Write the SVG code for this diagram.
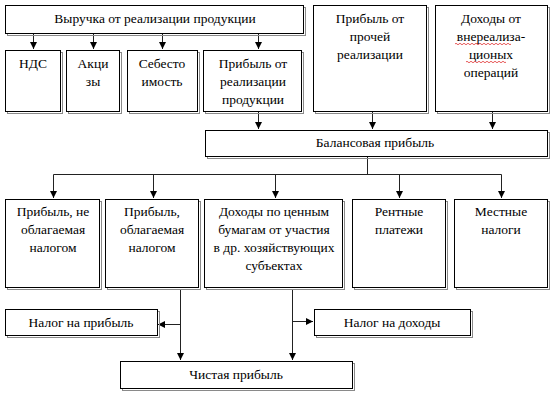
<svg xmlns="http://www.w3.org/2000/svg" width="556" height="395" viewBox="0 0 556 395">
<defs>
<marker id="ah" markerWidth="8" markerHeight="8" refX="7" refY="4" orient="auto" markerUnits="userSpaceOnUse">
<path d="M0,0.5 L7,4 L0,7.5 Z" fill="#000"/>
</marker>
<style>
.sh{fill:none;stroke:#8a8a8a;stroke-width:1}
.bx{fill:#fff;stroke:#000;stroke-width:1}
.t text{font-size:13.5px;fill:#000;text-anchor:middle}
.c{fill:none;stroke:#222;stroke-width:1}
.sq{fill:none;stroke:#e03030;stroke-width:0.8}
</style>
</defs>
<rect x="0" y="0" width="556" height="395" fill="#fff"/>

<g id="connectors">
<path class="c" d="M33.5,33 V49" marker-end="url(#ah)"/>
<path class="c" d="M93.5,33 V49" marker-end="url(#ah)"/>
<path class="c" d="M162.5,33 V49" marker-end="url(#ah)"/>
<path class="c" d="M258.5,33 V49" marker-end="url(#ah)"/>
<path class="c" d="M258.5,111 V129" marker-end="url(#ah)"/>
<path class="c" d="M372.5,111 V129" marker-end="url(#ah)"/>
<path class="c" d="M492.5,111 V129" marker-end="url(#ah)"/>
<path class="c" d="M367.5,157 V174.5 M53.5,174.5 H501.5"/>
<path class="c" d="M53.5,174.5 V198" marker-end="url(#ah)"/>
<path class="c" d="M153.5,174.5 V198" marker-end="url(#ah)"/>
<path class="c" d="M275.5,174.5 V198" marker-end="url(#ah)"/>
<path class="c" d="M399.5,174.5 V198" marker-end="url(#ah)"/>
<path class="c" d="M501.5,174.5 V198" marker-end="url(#ah)"/>
<path class="c" d="M180.5,290 V360" marker-end="url(#ah)"/>
<path class="c" d="M180.5,324.5 H158" marker-end="url(#ah)"/>
<path class="c" d="M292.5,290 V360" marker-end="url(#ah)"/>
<path class="c" d="M292.5,321.5 H313" marker-end="url(#ah)"/>
</g>

<g class="t" font-family="'Liberation Serif', 'Times New Roman', 'DejaVu Serif', serif">
<g id="n-vyruchka">
<rect class="sh" x="7.5" y="7.5" width="298" height="28"/>
<rect class="bx" x="5.5" y="5.5" width="298" height="28"/>
<text x="155" y="23">Выручка от реализации продукции</text>
</g>
<g id="n-nds">
<rect class="sh" x="7.5" y="52.5" width="55" height="61"/>
<rect class="bx" x="5.5" y="50.5" width="55" height="61"/>
<text x="33" y="68">НДС</text>
</g>
<g id="n-akcizy">
<rect class="sh" x="68.5" y="52.5" width="53" height="61"/>
<rect class="bx" x="66.5" y="50.5" width="53" height="61"/>
<text x="93" y="68">Акци</text>
<text x="93" y="86">зы</text>
</g>
<g id="n-sebest">
<rect class="sh" x="129.5" y="52.5" width="70" height="61"/>
<rect class="bx" x="127.5" y="50.5" width="70" height="61"/>
<text x="162" y="68">Себесто</text>
<text x="162" y="86">имость</text>
</g>
<g id="n-pribyl-realiz">
<rect class="sh" x="205.5" y="52.5" width="98" height="61"/>
<rect class="bx" x="203.5" y="50.5" width="98" height="61"/>
<text x="253" y="68">Прибыль от</text>
<text x="253" y="86">реализации</text>
<text x="253" y="104">продукции</text>
</g>
<g id="n-pribyl-proch">
<rect class="sh" x="315.5" y="7.5" width="113" height="106"/>
<rect class="bx" x="313.5" y="5.5" width="113" height="106"/>
<text x="370" y="23">Прибыль от</text>
<text x="370" y="41">прочей</text>
<text x="370" y="59">реализации</text>
</g>
<g id="n-dohody-vnereal">
<rect class="sh" x="437.5" y="7.5" width="112" height="106"/>
<rect class="bx" x="435.5" y="5.5" width="112" height="106"/>
<text x="491" y="23">Доходы от</text>
<text x="491" y="41">внереализа-</text>
<text x="491" y="59">ционых</text>
<text x="491" y="77">операций</text>
<path class="sq" d="M455,44 q1,-1.5 2,0 t2,0 t2,0 t2,0 t2,0 t2,0 t2,0 t2,0 t2,0 t2,0 t2,0 t2,0 t2,0 t2,0 t2,0 t2,0 t2,0 t2,0 t2,0 t2,0 t2,0 t2,0 t2,0 t2,0 t2,0 t2,0 t2,0 t2,0"/>
<path class="sq" d="M466,62 q1,-1.5 2,0 t2,0 t2,0 t2,0 t2,0 t2,0 t2,0 t2,0 t2,0 t2,0 t2,0 t2,0 t2,0 t2,0 t2,0 t2,0 t2,0 t2,0 t2,0 t2,0"/>
</g>
<g id="n-balans">
<rect class="sh" x="207.5" y="132.5" width="342" height="26"/>
<rect class="bx" x="205.5" y="130.5" width="342" height="26"/>
<text x="375" y="147">Балансовая прибыль</text>
</g>
<g id="n-ne-oblag">
<rect class="sh" x="7.5" y="201.5" width="94" height="88"/>
<rect class="bx" x="5.5" y="199.5" width="94" height="88"/>
<text x="53" y="216">Прибыль, не</text>
<text x="53" y="234">облагаемая</text>
<text x="53" y="252">налогом</text>
</g>
<g id="n-oblag">
<rect class="sh" x="107.5" y="201.5" width="93" height="88"/>
<rect class="bx" x="105.5" y="199.5" width="93" height="88"/>
<text x="152" y="216">Прибыль,</text>
<text x="152" y="234">облагаемая</text>
<text x="152" y="252">налогом</text>
</g>
<g id="n-dohody-cb">
<rect class="sh" x="206.5" y="201.5" width="138" height="88"/>
<rect class="bx" x="204.5" y="199.5" width="138" height="88"/>
<text x="274" y="216">Доходы по ценным</text>
<text x="274" y="234">бумагам от участия</text>
<text x="274" y="252">в др. хозяйствующих</text>
<text x="274" y="270">субъектах</text>
</g>
<g id="n-rentnye">
<rect class="sh" x="354.5" y="201.5" width="93" height="88"/>
<rect class="bx" x="352.5" y="199.5" width="93" height="88"/>
<text x="399" y="216">Рентные</text>
<text x="399" y="234">платежи</text>
</g>
<g id="n-mestnye">
<rect class="sh" x="456.5" y="201.5" width="93" height="88"/>
<rect class="bx" x="454.5" y="199.5" width="93" height="88"/>
<text x="501" y="216">Местные</text>
<text x="501" y="234">налоги</text>
</g>
<g id="n-nalog-pribyl">
<rect class="sh" x="7.5" y="311.5" width="152" height="26"/>
<rect class="bx" x="5.5" y="309.5" width="152" height="26"/>
<text x="81" y="327">Налог на прибыль</text>
</g>
<g id="n-nalog-dohody">
<rect class="sh" x="316.5" y="311.5" width="156" height="26"/>
<rect class="bx" x="314.5" y="309.5" width="156" height="26"/>
<text x="392" y="327">Налог на доходы</text>
</g>
<g id="n-chistaya">
<rect class="sh" x="122.5" y="363.5" width="232" height="27"/>
<rect class="bx" x="120.5" y="361.5" width="232" height="27"/>
<text x="236" y="379">Чистая прибыль</text>
</g>
</g>
</svg>
